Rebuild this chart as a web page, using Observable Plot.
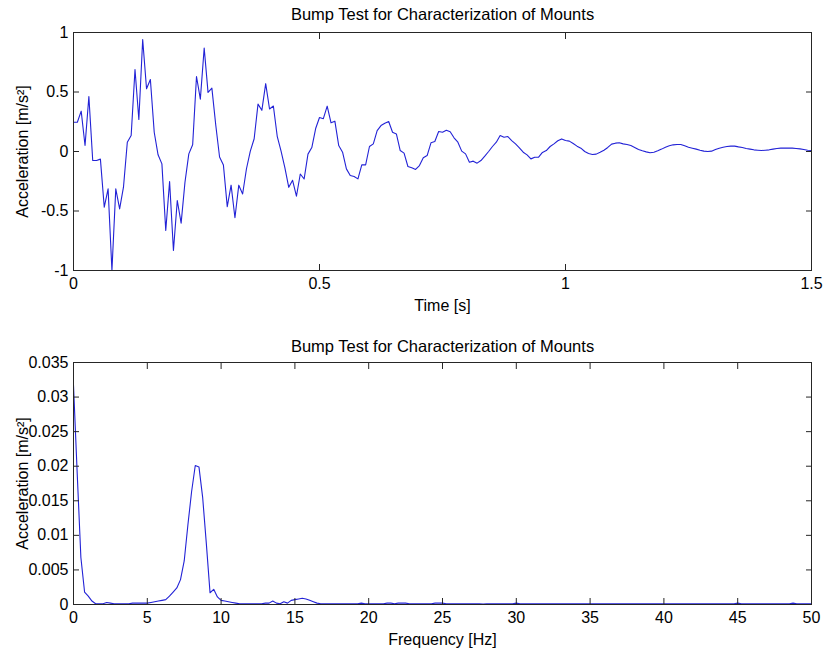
<!DOCTYPE html>
<html><head><meta charset="utf-8">
<script src="https://cdn.jsdelivr.net/npm/d3@7"></script>
<script src="https://cdn.jsdelivr.net/npm/@observablehq/plot@0.6"></script>
<style>
html,body{margin:0;padding:0;background:#fff;}
body{width:826px;height:648px;overflow:hidden;font-family:"Liberation Sans",Arial,sans-serif;}
#top,#bottom{display:block;line-height:0;}
</style></head><body>
<div id="top"></div><div id="bottom"></div>
<script>
const chartTitle = "Bump Test for Characterization of Mounts";
const timeLabel = "Time [s]";
const freqLabel = "Frequency [Hz]";
const accelLabel = "Acceleration [m/s\u00B2]";

// time signal, sampled at 128 Hz
const sampleRate = 128;
const accel = [
  0.246, 0.246, 0.339, 0.050, 0.462, -0.076, -0.076, -0.064, -0.468, -0.314,
  -1.000, -0.314, -0.482, -0.300, 0.078, 0.134, 0.689, 0.269, 0.941, 0.527,
  0.605, 0.162, -0.028, -0.104, -0.664, -0.252, -0.832, -0.412, -0.602, -0.258,
  -0.020, 0.056, 0.630, 0.440, 0.870, 0.497, 0.533, 0.225, -0.046, -0.113,
  -0.463, -0.283, -0.557, -0.283, -0.357, -0.145, 0.003, 0.107, 0.398, 0.346,
  0.570, 0.357, 0.382, 0.128, 0.003, -0.137, -0.301, -0.242, -0.376, -0.189,
  -0.231, -0.022, 0.033, 0.193, 0.286, 0.276, 0.381, 0.241, 0.255, 0.050,
  -0.006, -0.146, -0.202, -0.210, -0.230, -0.112, -0.112, 0.042, 0.064, 0.176,
  0.218, 0.238, 0.252, 0.162, 0.148, 0.008, -0.014, -0.126, -0.137, -0.151,
  -0.118, -0.053, -0.034, 0.073, 0.084, 0.168, 0.162, 0.178, 0.166, 0.115,
  0.078, 0.003, -0.020, -0.090, -0.081, -0.098, -0.076, -0.039, 0.000, 0.042,
  0.078, 0.134, 0.120, 0.126, 0.092, 0.064, 0.031, -0.006, -0.028, -0.062,
  -0.048, -0.048, -0.008, 0.008, 0.042, 0.064, 0.090, 0.106, 0.092, 0.087,
  0.067, 0.045, 0.028, 0.000, -0.017, -0.025, -0.022, -0.006, 0.011, 0.034,
  0.062, 0.070, 0.073, 0.064, 0.059, 0.050, 0.034, 0.017, 0.006, -0.003,
  -0.011, -0.006, 0.006, 0.020, 0.036, 0.048, 0.056, 0.059, 0.059, 0.048,
  0.036, 0.028, 0.020, 0.011, 0.003, 0.000, 0.003, 0.017, 0.028, 0.036,
  0.042, 0.045, 0.045, 0.039, 0.034, 0.025, 0.020, 0.014, 0.011, 0.008,
  0.011, 0.014, 0.020, 0.025, 0.028, 0.028, 0.028, 0.028, 0.025, 0.022,
  0.017, 0.011, 0.008
];
const timeTicks = [0, 0.5, 1, 1.5];
const accelTicks = [-1, -0.5, 0, 0.5, 1];

// amplitude spectrum, 0.25 Hz bins from 0 to 50 Hz
const freqStep = 0.25;
const spectrum = [
  0.0317, 0.0190, 0.0068, 0.0018, 0.0012, 0.0005, 0.0001, 0.0001, 0.0001, 0.0003,
  0.0002, 0.0001, 0.0001, 0.0001, 0.0001, 0.0001, 0.0002, 0.0002, 0.0002, 0.0002,
  0.0002, 0.0003, 0.0004, 0.0005, 0.0006, 0.0007, 0.0012, 0.0018, 0.0024, 0.0036,
  0.0063, 0.0115, 0.0163, 0.0201, 0.0199, 0.0155, 0.0088, 0.0017, 0.0022, 0.0011,
  0.0006, 0.0005, 0.0004, 0.0003, 0.0002, 0.0001, 0.0001, 0.0001, 0.0001, 0.0001,
  0.0001, 0.0001, 0.0002, 0.0002, 0.0005, 0.0002, 0.0001, 0.0004, 0.0002, 0.0006,
  0.0007, 0.0008, 0.0009, 0.0008, 0.0006, 0.0004, 0.0002, 0.0001,
  0.0001, 0.0001, 0.0001, 0.0001, 0.0001, 0.0001, 0.0001, 0.0001, 0.0001, 0.0001,
  0.0002, 0.0001, 0.0001, 0.0001, 0.0001, 0.0001, 0.0001, 0.0002, 0.0002, 0.0001,
  0.0002, 0.0002, 0.0002, 0.0001, 0.0001, 0.0001, 0.0001, 0.0001, 0.0001, 0.0001,
  0.0002, 0.0002, 0.0002, 0.0001, 0.0001, 0.0001, 0.0001, 0.0001, 0.0001, 0.0001,
  0.0001, 0.0001, 0.0001, 0.00005, 0.0001, 0.0001, 0.0001, 0.0001, 0.0001, 0.0001,
  0.0001, 0.0001, 0.0002, 0.0001, 0.0001, 0.0001, 0.0001, 0.0001, 0.0001, 0.0001,
  0.0001, 0.0001, 0.0001, 0.0001, 0.0001, 0.0001, 0.0001, 0.0001, 0.0001, 0.0001,
  0.0001, 0.0001, 0.0001, 0.0001, 0.0001, 0.0001, 0.0001, 0.0001, 0.0001, 0.0001,
  0.0001, 0.0001, 0.0001, 0.0001, 0.0001, 0.0001, 0.0001, 0.0001, 0.0001, 0.0001,
  0.0001, 0.0001, 0.0001, 0.0001, 0.0001, 0.0001, 0.0001, 0.0001, 0.0001, 0.0001,
  0.0001, 0.0001, 0.0001, 0.0001, 0.0001, 0.0001, 0.0001, 0.0001, 0.0001, 0.0001,
  0.0001, 0.0001, 0.0002, 0.0001, 0.0001, 0.0001, 0.0001, 0.0001, 0.0001, 0.0001,
  0.0001, 0.0001, 0.0001, 0.0001, 0.0001, 0.0001, 0.0001, 0.0002, 0.0001, 0.0001,
  0.0001, 0.0001, 0.0001
];
const freqTicks = [0, 5, 10, 15, 20, 25, 30, 35, 40, 45, 50];
const specTicks = [0, 0.005, 0.01, 0.015, 0.02, 0.025, 0.03, 0.035];

const timeData = accel.map((a, i) => ({t: i / sampleRate, a}));
const specData = spectrum.map((v, i) => ({f: i * freqStep, v}));

const lineColor = "#2222d6";
const frameColor = "#262626";
const fmt = d => String(d);
const font = '"Liberation Sans", Arial, sans-serif';

function panel({data, x, y, xDomain, yDomain, xTicks, yTicks, xLabel, marginTop, marginBottom, titleDy}) {
  return Plot.plot({
    width: 826, height: 324,
    marginLeft: 73, marginRight: 15, marginTop, marginBottom,
    style: {fontFamily: font, fontSize: "16px", color: "#000", background: "#fff", overflow: "visible"},
    x: {domain: xDomain},
    y: {domain: yDomain},
    marks: [
      Plot.line(data, {x, y, stroke: lineColor, strokeWidth: 1.1}),
      Plot.frame({stroke: frameColor, strokeWidth: 1}),
      Plot.axisX(xTicks, {anchor: "bottom", tickSize: -6, tickPadding: 13, tickFormat: fmt, stroke: frameColor, fill: "#000",
        label: xLabel, labelAnchor: "center", labelArrow: false, labelOffset: 40}),
      Plot.axisX(xTicks, {anchor: "top", tickSize: -6, tickFormat: () => "", stroke: frameColor, label: null}),
      Plot.axisY(yTicks, {anchor: "left", tickSize: -6, tickPadding: 11, tickFormat: fmt, stroke: frameColor, fill: "#000",
        label: accelLabel, labelAnchor: "center", labelArrow: false, labelOffset: 57}),
      Plot.axisY(yTicks, {anchor: "right", tickSize: -6, tickFormat: () => "", stroke: frameColor, label: null}),
      Plot.text([chartTitle], {frameAnchor: "top", dy: titleDy, lineAnchor: "middle", fontSize: 16.5, fill: "#000"})
    ]
  });
}

document.getElementById("top").append(panel({
  data: timeData, x: "t", y: "a", xDomain: [0, 1.5], yDomain: [-1, 1],
  xTicks: timeTicks, yTicks: accelTicks, xLabel: timeLabel,
  marginTop: 32, marginBottom: 54, titleDy: -18
}));
document.getElementById("bottom").append(panel({
  data: specData, x: "f", y: "v", xDomain: [0, 50], yDomain: [0, 0.035],
  xTicks: freqTicks, yTicks: specTicks, xLabel: freqLabel,
  marginTop: 38, marginBottom: 44, titleDy: -16
}));
</script>
</body></html>
